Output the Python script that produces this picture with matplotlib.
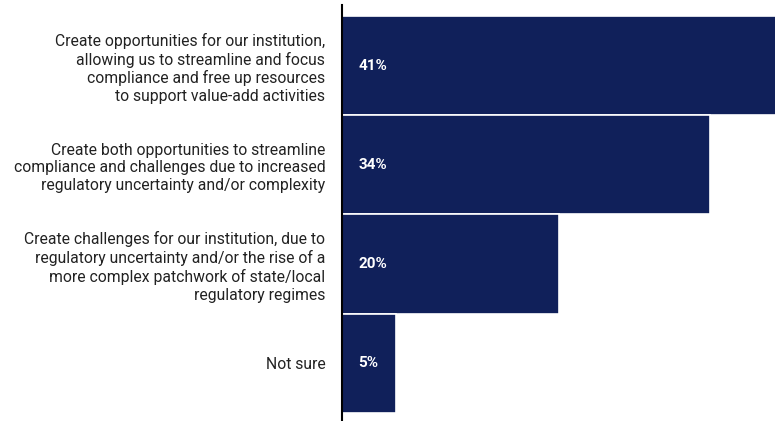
import matplotlib.pyplot as plt

plt.rcParams['font.family'] = ['Roboto', 'DejaVu Sans']

categories = [
    "Create opportunities for our institution,\nallowing us to streamline and focus\ncompliance and free up resources\nto support value-add activities",
    "Create both opportunities to streamline\ncompliance and challenges due to increased\nregulatory uncertainty and/or complexity",
    "Create challenges for our institution, due to\nregulatory uncertainty and/or the rise of a\nmore complex patchwork of state/local\nregulatory regimes",
    "Not sure",
]
values = [41, 34, 20, 5]
value_labels = ["41%", "34%", "20%", "5%"]

navy = "#10205a"

fig = plt.figure(figsize=(7.75, 4.21), dpi=100)
ax = fig.add_axes([342 / 775, 0, 1 - 342 / 775, 416 / 421])

pos = list(range(len(values)))
ax.barh(pos, values, height=1.0, color=navy, edgecolor="white", linewidth=1.2)

for p, lab in zip(pos, value_labels):
    ax.annotate(lab, xy=(0, p), xytext=(12, 0), textcoords="offset points",
                ha="left", va="center", color="white", fontsize=11,
                fontweight="bold")

ax.set_yticks(pos)
ax.set_yticklabels(categories, fontsize=11.3, color="#222222", ha="right",
                   multialignment="right", linespacing=1.22)
ax.tick_params(axis="y", length=0, pad=12)
ax.tick_params(axis="x", bottom=False, labelbottom=False)

ax.set_xlim(0, 40.0)
ax.set_ylim(3.58, -0.61)

for s in ["top", "right", "bottom"]:
    ax.spines[s].set_visible(False)
ax.spines["left"].set_linewidth(1.5)
ax.spines["left"].set_color("black")
ax.spines["left"].set_zorder(5)

fig.savefig("out.png", dpi=100)
